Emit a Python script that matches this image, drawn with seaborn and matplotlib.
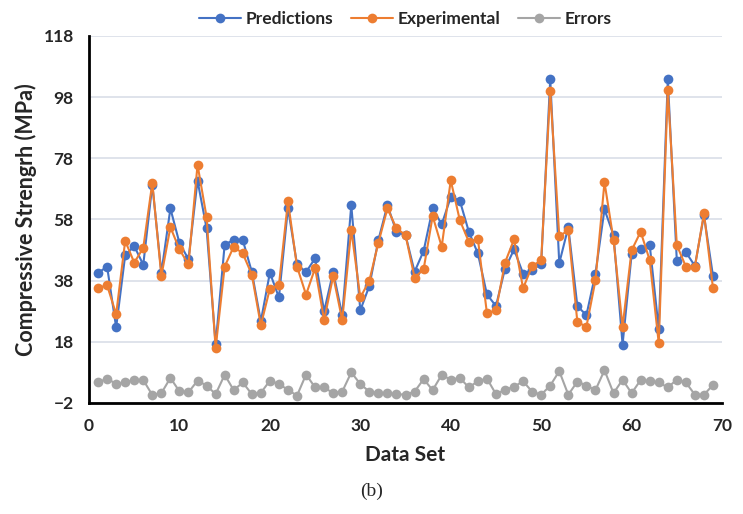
import numpy as np
import pandas as pd
import seaborn as sns
from matplotlib import pyplot as plt

# values
data_set = list(range(1, 70))
predictions = [40.5, 42.6, 22.7, 46.3, 49.3, 43.2, 69.4, 40.6, 61.6, 50.3,
               45.0, 70.7, 55.1, 17.2, 49.8, 51.3, 51.3, 40.9, 24.7, 40.6,
               32.5, 61.8, 43.3, 40.8, 45.3, 28.0, 40.9, 26.7, 62.7, 28.3,
               36.3, 51.3, 62.7, 53.9, 52.9, 40.9, 47.7, 61.6, 56.4, 65.3,
               64.2, 54.0, 46.9, 33.5, 29.7, 41.9, 48.2, 40.3, 41.5, 43.4,
               103.9, 43.7, 55.5, 29.7, 26.7, 40.3, 61.3, 52.9, 17.1, 46.6,
               48.5, 49.7, 22.1, 103.9, 44.4, 47.3, 42.8, 59.4, 39.5]
experimental = [35.6, 36.5, 27.0, 51.0, 43.9, 48.7, 70.0, 39.5, 55.5, 48.2,
                43.3, 75.9, 58.8, 15.9, 42.6, 49.1, 46.9, 40.0, 23.4, 35.4,
                36.5, 64.0, 42.6, 33.4, 42.1, 25.1, 39.5, 25.1, 54.6, 32.5,
                38.0, 50.4, 61.6, 55.1, 52.9, 39.0, 41.7, 59.1, 49.1, 70.8,
                57.8, 50.7, 51.7, 27.3, 28.3, 43.9, 51.5, 35.5, 42.8, 44.6,
                100.1, 52.6, 54.4, 24.5, 22.9, 38.1, 70.2, 51.3, 22.9, 47.9,
                54.0, 44.7, 17.5, 100.4, 49.6, 42.6, 42.6, 60.0, 35.5]
errors = [4.7, 6.0, 4.2, 4.7, 5.5, 5.5, 0.6, 1.2, 6.2, 1.8,
          1.5, 5.3, 3.7, 0.9, 7.2, 2.2, 4.7, 0.9, 1.3, 5.3,
          4.2, 2.3, 0.4, 7.3, 3.1, 3.1, 1.2, 1.7, 8.0, 4.2,
          1.7, 1.2, 1.2, 0.9, 0.7, 1.7, 5.8, 2.2, 7.2, 5.6,
          6.2, 3.1, 5.1, 6.0, 0.9, 2.3, 3.3, 5.1, 1.7, 0.7,
          3.7, 8.4, 0.7, 5.0, 3.7, 2.2, 8.7, 1.2, 5.6, 1.2,
          5.5, 5.1, 4.7, 3.1, 5.6, 4.7, 0.7, 0.7, 3.9]

series_names = ['Predictions', 'Experimental', 'Errors']
colors = ['#4472C4', '#ED7D31', '#A5A5A5']

df = pd.DataFrame({
    'Data Set': data_set * 3,
    'value': predictions + experimental + errors,
    'series': np.repeat(series_names, len(data_set)),
})

sns.set_style('white')
plt.rcParams['font.family'] = ['Lato', 'DejaVu Sans']

fig = plt.figure(figsize=(7.43, 5.14), dpi=100)
ax = fig.add_axes([0.1198, 0.216, 0.852, 0.714])

sns.lineplot(data=df, x='Data Set', y='value', hue='series', hue_order=series_names,
             palette=colors, marker='o', markersize=7, markeredgewidth=0,
             linewidth=1.5, ax=ax)

ax.set_xlim(0, 70)
ax.set_ylim(-2, 118)
ax.set_xticks(range(0, 71, 10))
ax.set_yticks(range(-2, 119, 20))
ax.yaxis.grid(True, color='#d9dee8', linewidth=1.2)
ax.xaxis.grid(False)
ax.set_axisbelow(True)

for s in ['top', 'right']:
    ax.spines[s].set_visible(False)
for s in ['left', 'bottom']:
    ax.spines[s].set_color('black')
    ax.spines[s].set_linewidth(2)

ax.tick_params(axis='both', direction='out', length=5, width=2, color='black',
               labelsize=12.5, pad=6)
for lbl in ax.get_xticklabels() + ax.get_yticklabels():
    lbl.set_fontweight('bold')

ax.set_xlabel('Data Set', fontsize=15, fontweight='bold', labelpad=8)
ax.set_ylabel('Compressive Strengrh (MPa)', fontsize=15.5, fontweight='bold', labelpad=5)

ax.legend(loc='lower center', bbox_to_anchor=(0.5, 0.995), ncol=3, frameon=False,
          prop={'size': 12.5, 'weight': 'bold'}, handlelength=2.4,
          columnspacing=1.0, handletextpad=0.3, borderaxespad=0.2)

fig.text(0.5, 0.035, '(b)', family='Liberation Serif', fontsize=14, ha='center')

fig.savefig('out.png', dpi=100)
